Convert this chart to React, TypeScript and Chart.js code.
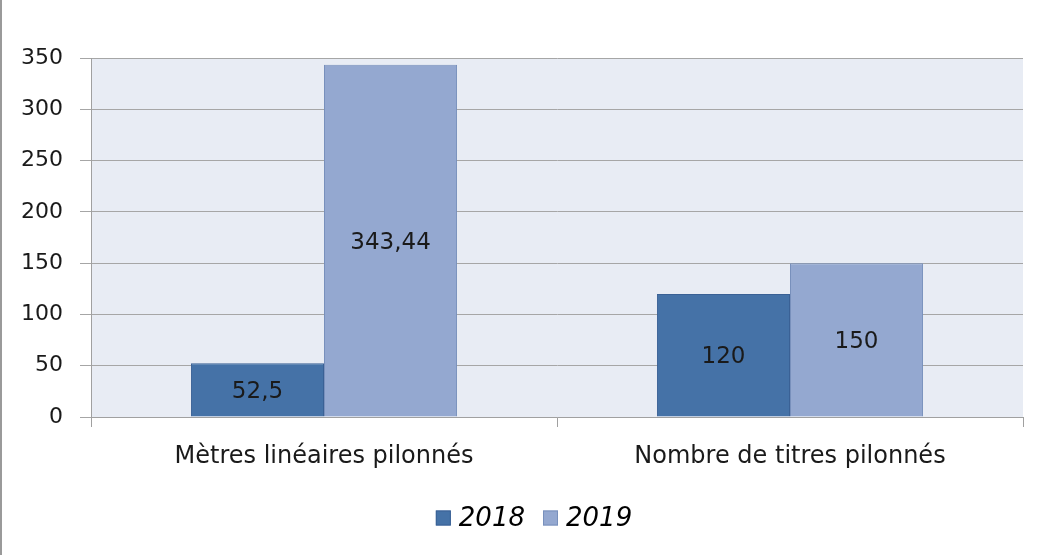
import React, { useEffect, useRef } from "react";
import { Chart, registerables } from "chart.js";

Chart.register(...registerables);

const categories = ["Mètres linéaires pilonnés", "Nombre de titres pilonnés"];
const seriesLabels = ["2018", "2019"];
const values2018 = [52.5, 120];
const values2019 = [343.44, 150];
const yTicks = [0, 50, 100, 150, 200, 250, 300, 350];

const FONT = "'DejaVu Sans', Verdana, sans-serif";

const plotBg = {
  id: "plotBg",
  beforeDraw(chart: any) {
    const { ctx, chartArea } = chart;
    ctx.save();
    ctx.fillStyle = "#E8ECF4";
    ctx.fillRect(chartArea.left, chartArea.top, chartArea.right - chartArea.left, chartArea.bottom - chartArea.top);
    ctx.restore();
  },
};

const barLabels = {
  id: "barLabels",
  afterDatasetsDraw(chart: any) {
    const { ctx } = chart;
    ctx.save();
    ctx.font = `23px ${FONT}`;
    ctx.fillStyle = "#1a1a1a";
    ctx.textAlign = "center";
    ctx.textBaseline = "middle";
    chart.data.datasets.forEach((ds: any, di: number) => {
      const meta = chart.getDatasetMeta(di);
      meta.data.forEach((el: any, i: number) => {
        const v = ds.data[i];
        const txt = String(v).replace(".", ",");
        ctx.fillText(txt, el.x, (el.y + el.base) / 2 + 2);
      });
    });
    ctx.restore();
  },
};

// Custom legend drawn below the axis (centre offset as in the reference)
const customLegend = {
  id: "customLegend",
  afterDraw(chart: any) {
    const { ctx } = chart;
    const box = 15;
    const gapBoxText = 8;
    const gapItems = 18;
    const cy = 518;
    const centerX = 534;
    ctx.save();
    ctx.font = `italic 26px ${FONT}`;
    ctx.textBaseline = "middle";
    ctx.textAlign = "left";
    const ds = chart.data.datasets;
    const widths = ds.map((d: any) => box + gapBoxText + ctx.measureText(d.label).width);
    const total = widths.reduce((a: number, b: number) => a + b, 0) + gapItems * (ds.length - 1);
    let x = centerX - total / 2;
    ds.forEach((d: any, i: number) => {
      ctx.fillStyle = d.backgroundColor;
      ctx.fillRect(x, cy - box / 2, box, box);
      ctx.strokeStyle = d.borderColor;
      ctx.lineWidth = 1;
      ctx.strokeRect(x + 0.5, cy - box / 2 + 0.5, box - 1, box - 1);
      ctx.fillStyle = "#000";
      ctx.fillText(d.label, x + box + gapBoxText, cy + 1);
      x += widths[i] + gapItems;
    });
    ctx.restore();
  },
};

export default function App() {
  const ref = useRef<HTMLCanvasElement>(null);
  useEffect(() => {
    if (!ref.current) return;
    const chart = new Chart(ref.current, {
      type: "bar",
      data: {
        labels: categories,
        datasets: [
          {
            label: seriesLabels[0],
            data: values2018,
            backgroundColor: "#4572A7",
            borderColor: "#3A6195",
            borderWidth: 1,
            barPercentage: 1,
            categoryPercentage: 0.571,
          },
          {
            label: seriesLabels[1],
            data: values2019,
            backgroundColor: "#94A8D0",
            borderColor: "#7890BC",
            borderWidth: 1,
            barPercentage: 1,
            categoryPercentage: 0.571,
          },
        ],
      },
      options: {
        responsive: false,
        animation: false,
        layout: { padding: { top: 58, right: 20, left: 0, bottom: 0 } },
        plugins: {
          title: { display: false },
          tooltip: { enabled: false },
          legend: { display: false },
        },
        scales: {
          x: {
            afterFit(scale: any) {
              scale.height = 138;
            },
            grid: {
              display: true,
              drawOnChartArea: false,
              drawTicks: true,
              tickLength: 10,
              offset: true,
              color: "#A0A0A0",
            },
            border: { display: true, color: "#A0A0A0", width: 1 },
            ticks: {
              color: "#1a1a1a",
              padding: 15,
              font: { family: FONT, size: 24 },
            },
          },
          y: {
            min: 0,
            max: 350,
            afterFit(scale: any) {
              scale.width = 91;
            },
            afterBuildTicks(scale: any) {
              scale.ticks = yTicks.map((v) => ({ value: v }));
            },
            grid: {
              color: "#A6A6A6",
              drawTicks: true,
              tickLength: 11,
            },
            border: { display: true, color: "#A0A0A0", width: 1 },
            ticks: {
              color: "#1a1a1a",
              padding: 17,
              font: { family: FONT, size: 22 },
            },
          },
        },
      },
      plugins: [plotBg, barLabels, customLegend],
    });
    return () => chart.destroy();
  }, []);
  return (
    <div
      style={{
        position: "absolute",
        left: 0,
        top: 0,
        width: 1043,
        height: 555,
        background: "#fff",
      }}
    >
      <canvas ref={ref} width={1043} height={555} style={{ display: "block" }} />
      <div
        style={{
          position: "absolute",
          left: 0,
          top: 0,
          width: 2,
          height: 555,
          background: "#9a9a9a",
        }}
      />
    </div>
  );
}
